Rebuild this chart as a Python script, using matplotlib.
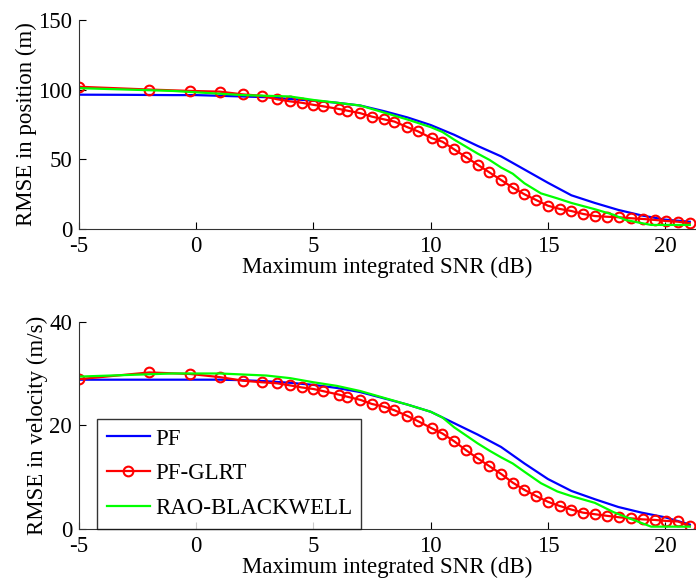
import numpy as np
import matplotlib
matplotlib.use('Agg')
import matplotlib.pyplot as plt

plt.rcParams['font.family'] = ['Liberation Serif', 'DejaVu Serif']
plt.rcParams['axes.unicode_minus'] = False

# PF-GLRT (red, circles)
glrt_x = [-5, -2, -0.25, 1.0, 2.0, 2.8, 3.45, 4.0, 4.5, 5.0,
          5.4, 6.1, 6.45, 7.0, 7.5, 8.0, 8.45, 9.0, 9.45, 10.05,
          10.5, 11.0, 11.5, 12.0, 12.5, 13.0, 13.5, 14.0, 14.5, 15.0,
          15.5, 16.0, 16.5, 17.0, 17.5, 18.05, 18.55, 19.05, 19.55, 20.05,
          20.55, 21.05]
glrt_pos = [102, 100, 99, 98.5, 96.5, 95.5, 93, 91.5, 90.5, 89,
            88, 86, 84.8, 83, 80.5, 78.6, 77, 73, 70, 65,
            62.5, 57, 51.5, 46, 40.5, 35, 29.5, 24.7, 20.6, 16.5,
            14.2, 12.7, 10.6, 9.1, 8.6, 8.2, 7.5, 7.0, 6.3, 5.5,
            5.0, 3.9]
glrt_vel = [28.9, 30.2, 29.9, 29.3, 28.6, 28.3, 28.1, 27.7, 27.3, 27.0,
            26.6, 25.9, 25.5, 24.9, 24.1, 23.6, 22.9, 21.8, 20.8, 19.4,
            18.4, 16.9, 15.2, 13.6, 12.1, 10.6, 8.9, 7.5, 6.3, 5.2,
            4.4, 3.7, 3.1, 2.8, 2.5, 2.2, 2.0, 1.8, 1.7, 1.5,
            1.4, 0.5]

# PF (blue)
pf_x = [-5, -3, -1, 0, 1, 2, 3, 4, 5, 6, 7, 8, 9, 10, 11, 12, 13, 14, 15,
        16, 17, 18, 19, 20, 21.05]
pf_pos = [96.3, 96.2, 96, 96, 95.5, 95, 94.5, 93.2, 92, 90.5, 88.5, 84.5, 80,
          74.5, 67.5, 59.5, 52, 42.5, 33, 24, 18.5, 13.5, 9.5, 6.5, 5]
pf_vel = [28.8, 28.8, 28.8, 28.8, 28.8, 28.7, 28.5, 28.2, 27.8, 27.2, 26.4,
          25.2, 24, 22.6, 20.4, 18.2, 15.8, 12.6, 9.6, 7.3, 5.7, 4.2, 3.1,
          2.2, 0.8]

# RAO-BLACKWELL (green)
rb_x = [-5, -3, -1, 0, 1, 2, 3, 4, 5, 6, 7, 8, 9, 10, 10.5, 11, 12, 12.5, 13,
        13.5, 14, 14.7, 15.4, 16, 17, 17.8, 18.3, 19.4, 21.05]
rb_pos = [101, 100, 99, 98, 97, 96, 95.5, 95, 92.5, 90.5, 88.5, 83.5, 78.5,
          73, 69.5, 64, 54, 49.5, 44, 39.5, 32.6, 25.4, 21.8, 18.5, 14, 10,
          6.3, 2.7, 2.7]
rb_vel = [29.4, 29.7, 30, 30, 30, 29.8, 29.6, 29.1, 28.3, 27.6, 26.6, 25.3,
          24, 22.6, 21.5, 19.6, 16.5, 15.1, 13.8, 12.6, 11.0, 8.8, 7.2, 6.3,
          5.0, 3.2, 2.3, 0.4, 0.4]

xticks = [-5, 0, 5, 10, 15, 20]
FS = 16.5


def style_axes(ax, ymax, yticks, ylabel):
    ax.set_xlim(-5, 21.3)
    ax.set_ylim(0, ymax)
    ax.set_xticks(xticks)
    ax.set_yticks(yticks)
    ax.spines['top'].set_visible(False)
    ax.spines['right'].set_visible(False)
    ax.spines['left'].set_color('#333333')
    ax.spines['bottom'].set_color('#333333')
    ax.tick_params(direction='in', length=5, labelsize=FS, pad=5)
    ax.set_xlabel('Maximum integrated SNR (dB)', fontsize=FS, labelpad=0)
    ax.set_ylabel(ylabel, fontsize=FS, labelpad=1)


fig = plt.figure(figsize=(6.96, 5.87), dpi=100)
ax1 = fig.add_axes([0.1135, 0.6104, 0.886, 0.3556])
ax2 = fig.add_axes([0.1135, 0.0993, 0.886, 0.3526])

for ax, pos_or_vel in ((ax1, 0), (ax2, 1)):
    pf = [pf_pos, pf_vel][pos_or_vel]
    gl = [glrt_pos, glrt_vel][pos_or_vel]
    rb = [rb_pos, rb_vel][pos_or_vel]
    ax.plot(pf_x, pf, color='#0000ff', lw=1.6, label='PF')
    ax.plot(glrt_x, gl, color='#ff0000', lw=1.6, marker='o', ms=7,
            mfc='none', mew=1.5, label='PF-GLRT')
    ax.plot(rb_x, rb, color='#00ff00', lw=1.6, label='RAO-BLACKWELL')

style_axes(ax1, 150, [0, 50, 100, 150], 'RMSE in position (m)')
style_axes(ax2, 40, [0, 20, 40], 'RMSE in velocity (m/s)')

leg = ax2.legend(loc='lower left', bbox_to_anchor=(0.029, 0.0, 0.428, 0.535),
                 mode='expand', fontsize=FS, frameon=True, fancybox=False,
                 edgecolor='black', borderaxespad=0, handlelength=1.9,
                 handletextpad=0.25, labelspacing=0.6, borderpad=0.42)
leg.get_frame().set_linewidth(1.0)

fig.savefig('out.png', dpi=100)
